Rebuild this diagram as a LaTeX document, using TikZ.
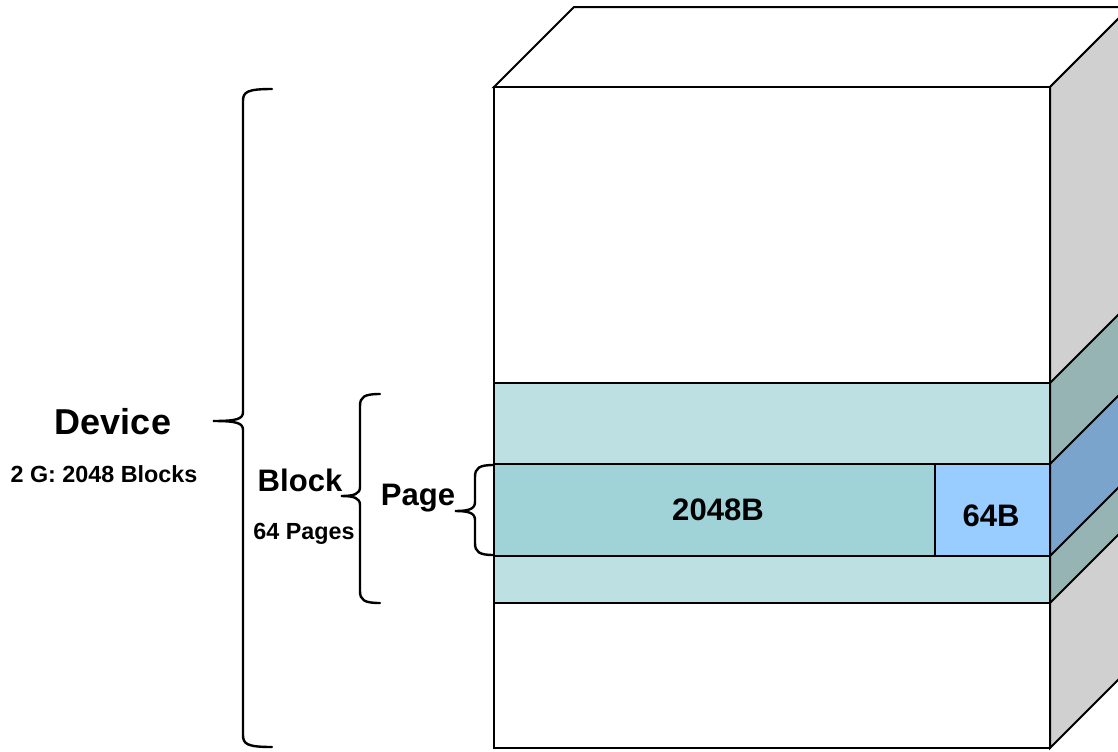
\documentclass[tikz,border=0pt]{standalone}
\usepackage{fontspec}
\setmainfont{Liberation Sans}
\usepackage{tikz}
\usetikzlibrary{calc}

\definecolor{blockfront}{RGB}{189,224,226}
\definecolor{pagefront}{RGB}{160,211,216}
\definecolor{spare}{RGB}{153,204,255}
\definecolor{sidegray}{RGB}{208,208,208}
\definecolor{blockside}{RGB}{150,180,180}
\definecolor{pageside}{RGB}{123,164,205}

\tikzset{
  edge/.style={draw=black, line width=1.5pt, line join=miter},
  bracestyle/.style={draw=black, line width=1.8pt, line cap=round},
  big/.style={font=\bfseries\fontsize{27}{32}\selectfont, anchor=base},
  mid/.style={font=\bfseries\fontsize{23.3}{28}\selectfont, anchor=base},
  small/.style={font=\bfseries\fontsize{17.5}{21}\selectfont, anchor=base}
}

% left brace: #1 spine x, #2 top y, #3 tip y, #4 bottom y, #5 hook length, #6 tip length
\newcommand{\sidebrace}[6]{%
\draw[bracestyle] ({#1+#5},#2) .. controls ({#1+4},#2) and (#1,{#2+3}) .. (#1,{#2+12})
  -- (#1,{#3-9}) .. controls (#1,{#3-2}) and ({#1-6},#3) .. ({#1-#6},#3)
  .. controls ({#1-6},#3) and (#1,{#3+2}) .. (#1,{#3+9})
  -- (#1,{#4-12}) .. controls (#1,{#4-3}) and ({#1+4},#4) .. ({#1+#5},#4);}

\begin{document}
\begin{tikzpicture}[x=0.75pt, y=-0.75pt]
\useasboundingbox (0,0) rectangle (1118,751);
\clip (0,0) rectangle (1118,751);

% top and side faces
\filldraw[edge, fill=white] (494,87) -- (574,7) -- (1130,7) -- (1050,87) -- cycle;
\filldraw[edge, fill=sidegray] (1050,87) -- (1130,7) -- (1130,668) -- (1050,748) -- cycle;
% front face
\filldraw[edge, fill=white] (494,87) rectangle (1050,748);

% block band
\filldraw[edge, fill=blockfront] (494,383) rectangle (1050,603);
\filldraw[edge, fill=blockside] (1050,383) -- (1130,303) -- (1130,523) -- (1050,603) -- cycle;

% page band
\filldraw[edge, fill=pagefront] (494,464) rectangle (935,556);
\filldraw[edge, fill=spare] (935,464) rectangle (1050,556);
\filldraw[edge, fill=pageside] (1050,464) -- (1130,384) -- (1130,476) -- (1050,556) -- cycle;

\node[mid] (data) at (718,520) {2048B};
\node[mid] (oob) at (991,526) {64B};

% braces
\sidebrace{243}{89}{421}{747}{29}{30}
\sidebrace{360}{394}{496}{603}{20}{19}
\sidebrace{475}{465}{511}{555}{19}{20}

% labels
\node[big] (device) at (113,434) {Device};
\node[small] (devsize) at (104,482) {2 G: 2048 Blocks};
\node[mid] (block) at (300,491) {Block};
\node[small] (blksize) at (304,539) {64 Pages};
\node[mid] (page) at (418,505) {Page};
\end{tikzpicture}
\end{document}
